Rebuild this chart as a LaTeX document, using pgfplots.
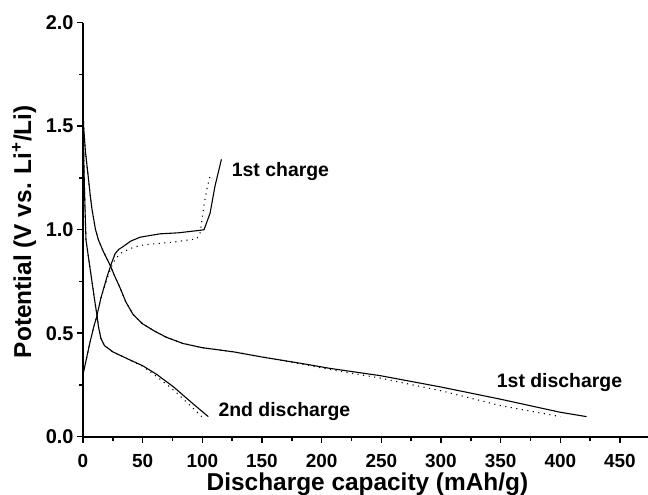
\documentclass[border=0pt]{standalone}
\usepackage{fontspec}
\setmainfont{Liberation Sans}
\usepackage{pgfplots}
\pgfplotsset{compat=1.18}
\begin{document}
\begin{tikzpicture}
\begin{axis}[
  scale only axis,
  width=565bp, height=414bp,
  xmin=0, xmax=473.5, ymin=0, ymax=2,
  axis x line=bottom, axis y line=left,
  axis line style={-, line width=1.7bp},
  xtick={0,50,...,450}, ytick={0,0.5,...,2},
  minor x tick num=1, minor y tick num=1,
  tick align=outside,
  major tick length=6bp, minor tick length=4bp,
  every tick/.style={line width=1.4bp, black},
  /pgf/number format/assume math mode=true,
  ticklabel style={font=\fontsize{19}{22}\selectfont\bfseries},
  yticklabel style={font=\fontsize{20}{23}\selectfont\bfseries, /pgf/number format/.cd, fixed, fixed zerofill, precision=1},
  xticklabel style={yshift=-8bp, /pgf/number format/.cd, fixed, precision=0},
  xlabel={Discharge capacity (mAh/g)},
  ylabel={Potential (V vs. Li\textsuperscript{+}/Li)},
  label style={font=\fontsize{24.5}{28}\selectfont\bfseries},
  xlabel style={at={(axis description cs:0.5035,-0.1288)}, anchor=base},
  ylabel style={at={(axis description cs:-0.092,0.495)}, anchor=base},
  clip=false,
]
% 1st discharge solid
\addplot[black, line width=1.1bp] coordinates {
(0,1.60) (0.5,1.50) (2,1.38) (4.5,1.25) (6,1.17) (7.5,1.10) (9,1.05) (10.5,1.00) (13,0.95) (17,0.895) (22.6,0.83) (27,0.77) (31,0.72) (36,0.65) (42,0.59) (50,0.545) (60,0.51) (70,0.48) (84,0.45) (100,0.43) (126,0.41) (150,0.385) (182,0.355) (207,0.33) (249,0.295) (300,0.24) (350,0.181) (400,0.118) (422,0.097)};
% 1st discharge dotted
\addplot[black, line width=1.1bp, dash pattern=on 1.1bp off 4.5bp] coordinates {
(0,1.60) (0.5,1.50) (2,1.38) (4.5,1.25) (6,1.17) (7.5,1.10) (9,1.05) (10.5,1.00) (13,0.95) (17,0.895) (22.6,0.83) (27,0.77) (31,0.72) (36,0.65) (42,0.59) (50,0.545) (60,0.51) (70,0.48) (84,0.45) (100,0.43) (126,0.41) (150,0.385) (182,0.352) (207,0.325) (249,0.283) (300,0.222) (350,0.15) (400,0.097)};
% 2nd discharge solid
\addplot[black, line width=1.1bp] coordinates {
(0,1.58) (0.5,1.4) (1,1.25) (1.7,1.1) (2.5,0.95) (4,0.89) (6,0.81) (8,0.73) (10,0.65) (11.5,0.595) (13,0.53) (15,0.475) (18,0.44) (25,0.41) (37,0.377) (50,0.343) (62,0.30) (76,0.24) (92,0.16) (105,0.097)};
% 2nd discharge dotted
\addplot[black, line width=1.1bp, dash pattern=on 1.1bp off 4.5bp] coordinates {
(0,1.58) (0.5,1.4) (1,1.25) (1.7,1.1) (2.5,0.95) (4,0.89) (6,0.81) (8,0.73) (10,0.65) (11.5,0.595) (13,0.53) (15,0.475) (18,0.44) (25,0.41) (37,0.377) (50,0.34) (62,0.29) (76,0.225) (90,0.15) (99.5,0.097)};
% 1st charge solid
\addplot[black, line width=1.1bp] coordinates {
(0,0.30) (3,0.38) (6,0.46) (9,0.53) (11.5,0.58) (15,0.67) (20,0.77) (24,0.84) (27,0.885) (30,0.905) (34,0.92) (40,0.945) (48,0.964) (64.5,0.98) (80,0.985) (98,0.997) (101.4,1.0) (104,1.04) (106.5,1.08) (110.6,1.21) (116,1.34)};
% 1st charge dotted
\addplot[black, line width=1.1bp, dash pattern=on 1.1bp off 4.5bp] coordinates {
(0,0.30) (3,0.38) (6,0.46) (9,0.53) (11.5,0.58) (15,0.67) (20,0.76) (25,0.84) (31,0.885) (40,0.91) (47.8,0.924) (60,0.932) (75.4,0.94) (95.3,0.956) (98,0.98) (100,1.06) (102,1.14) (104,1.2) (106.5,1.26)};
\node[anchor=base west, inner sep=0pt, font=\fontsize{19.5}{23}\selectfont\bfseries] at (axis cs:124.6,1.256) {1st charge};
\node[anchor=base west, inner sep=0pt, font=\fontsize{19.5}{23}\selectfont\bfseries] at (axis cs:113.4,0.10) {2nd discharge};
\node[anchor=base west, inner sep=0pt, font=\fontsize{19.5}{23}\selectfont\bfseries] at (axis cs:346.7,0.237) {1st discharge};
\end{axis}
\pgfresetboundingbox
\path[use as bounding box] (-83bp,-58.3bp) rectangle (565bp,436.7bp);
\end{tikzpicture}
\end{document}
